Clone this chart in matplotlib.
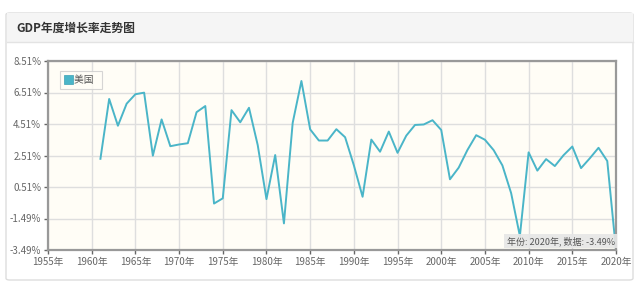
import numpy as np
import matplotlib.pyplot as plt
from matplotlib.patches import FancyBboxPatch, Rectangle, Patch

plt.rcParams['font.family'] = ['Noto Sans CJK SC', 'DejaVu Sans']

years = list(range(1961, 2021))
growth = [2.30, 6.10, 4.40, 5.80, 6.40, 6.50, 2.50, 4.80, 3.10, 3.21,
          3.29, 5.26, 5.65, -0.54, -0.21, 5.39, 4.62, 5.54, 3.17, -0.26,
          2.54, -1.80, 4.58, 7.24, 4.17, 3.46, 3.46, 4.18, 3.67, 1.89,
          -0.11, 3.52, 2.75, 4.03, 2.68, 3.77, 4.45, 4.48, 4.75, 4.13,
          1.00, 1.74, 2.86, 3.80, 3.51, 2.85, 1.88, 0.12, -2.60, 2.71,
          1.55, 2.28, 1.84, 2.53, 3.08, 1.71, 2.33, 3.00, 2.16, -3.49]
yticks = [8.51, 6.51, 4.51, 2.51, 0.51, -1.49, -3.49]
xticks = list(range(1955, 2021, 5))

W, H = 640, 286
fig = plt.figure(figsize=(6.4, 2.86), dpi=100)
fig.patch.set_facecolor('white')

# card frame + header (behind the axes)
card = FancyBboxPatch((6 / W, 6 / H), 627 / W, (273 - 6) / H,
                      boxstyle='round,pad=0,rounding_size=0.006',
                      transform=fig.transFigure, facecolor='white',
                      edgecolor='#dddddd', lw=1, zorder=-3)
fig.patches.append(card)
fig.patches.append(Rectangle((6.5 / W, (286 - 42) / H), 626 / W, 29 / H,
                             transform=fig.transFigure, facecolor='#f5f5f5',
                             edgecolor='none', zorder=-2))
fig.lines.append(plt.Line2D([6.5 / W, 632.5 / W], [(286 - 42) / H] * 2,
                            transform=fig.transFigure, color='#e3e3e3', lw=1,
                            zorder=-1))
fig.text(16 / W, 1 - 28.5 / H, 'GDP年度增长率走势图', fontsize=8.5,
         color='#333333', va='center', ha='left', fontweight='bold')

ax = fig.add_axes([48 / W, 1 - 250 / H, (616 - 48) / W, (250 - 61) / H])
ax.set_facecolor('#fffdf6')
ax.plot(years, growth, color='#4ab5c8', lw=1.4)
ax.set_xlim(1955, 2020)
ax.set_ylim(-3.49, 8.51)
ax.set_xticks(xticks)
ax.set_xticklabels([f'{x}年' for x in xticks])
ax.set_yticks(yticks)
ax.set_yticklabels([f'{y:.2f}%' for y in yticks])
ax.grid(True, color='#dedede', lw=1)
ax.set_axisbelow(True)
ax.tick_params(labelsize=7, colors='#666666', length=3, width=1, pad=2)
for sp in ax.spines.values():
    sp.set_color('#999999')
    sp.set_linewidth(1.6)

handle = Patch(facecolor='#4ab5c8', edgecolor='#3aa0b3', lw=0.5)
leg = ax.legend(handles=[handle], labels=['美国  '], loc='upper left',
                bbox_to_anchor=(0.012, 0.975), fontsize=7,
                frameon=True, fancybox=False, handlelength=0.95,
                handleheight=0.95, borderpad=0.45, handletextpad=0.1,
                edgecolor='#cccccc')
leg.get_frame().set_linewidth(0.8)
leg.get_frame().set_facecolor('#fffdf6')
for t in leg.get_texts():
    t.set_color('#555555')

ax.text(0.998, 0.02, '年份: 2020年, 数据: -3.49%', transform=ax.transAxes,
        ha='right', va='bottom', fontsize=6.5, color='#555555',
        bbox=dict(boxstyle='square,pad=0.25', facecolor='#e6e6e6',
                  edgecolor='none', alpha=0.9))

fig.savefig('out.png', dpi=100)
